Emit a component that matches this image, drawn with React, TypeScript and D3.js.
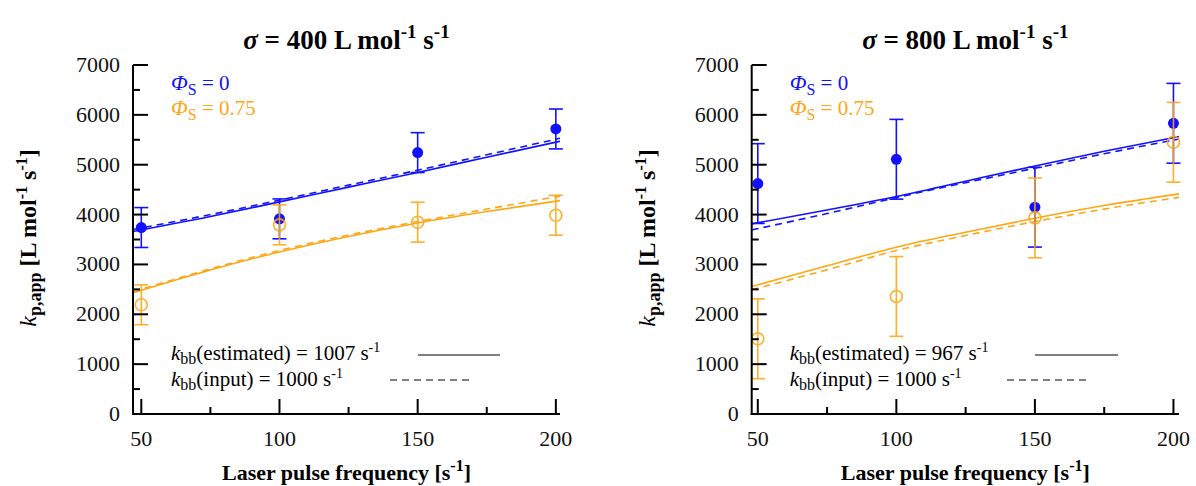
import React from "react";
import * as d3 from "d3";

const freq = [50, 100, 150, 200];
const blue400 = [3740, 3914, 5243, 5717];
const blue400Err = [400, 400, 400, 400];
const orange400 = [2191, 3794, 3847, 3987];
const orange400Err = [400, 400, 400, 400];
const blue800 = [4622, 5109, 4148, 5831];
const blue800Err = [800, 800, 800, 800];
const orange800 = [1509, 2358, 3934, 5450];
const orange800Err = [800, 800, 800, 800];

const fitX400 = [47, 75, 100, 125, 150, 175, 201.5];
const blueEst400 = [3660, 3960, 4255, 4550, 4845, 5150, 5470];
const blueInp400 = [3700, 4000, 4290, 4590, 4890, 5200, 5530];
const orangeEst400 = [2430, 2890, 3250, 3560, 3830, 4060, 4280];
const orangeInp400 = [2450, 2910, 3280, 3590, 3860, 4110, 4370];

const fitX800 = [47.8, 75, 100, 125, 150, 175, 202];
const blueEst800 = [3814, 4090, 4361, 4670, 4976, 5270, 5563];
const blueInp800 = [3693, 4020, 4341, 4640, 4929, 5220, 5515];
const orangeEst800 = [2558, 2972, 3346, 3647, 3927, 4181, 4415];
const orangeInp800 = [2491, 2892, 3279, 3580, 3860, 4110, 4345];

const yMajor = [0, 1000, 2000, 3000, 4000, 5000, 6000, 7000];
const yMinor = [500, 1500, 2500, 3500, 4500, 5500, 6500];
const xMajor = [50, 100, 150, 200];
const xMinor = [75, 125, 175];

const BLUE = "#1111ff";
const ORANGE = "#ffa614";
const FONT = "Liberation Serif, DejaVu Serif, serif";

type PanelProps = {
  left: number;
  right: number;
  domain: [number, number];
  sigma: string;
  kEst: string;
  fitX: number[];
  blue: number[];
  blueErr: number[];
  orange: number[];
  orangeErr: number[];
  blueEst: number[];
  blueInp: number[];
  orangeEst: number[];
  orangeInp: number[];
  estLine: [number, number];
  inpLine: [number, number];
};

function Panel(p: PanelProps) {
  const x = d3.scaleLinear().domain(p.domain).range([p.left, p.right]);
  const y = d3.scaleLinear().domain([0, 7000]).range([414, 65]);
  const top = y(7000);
  const bottom = y(0);
  const line = d3
    .line<number>()
    .x((_, i) => x(p.fitX[i]))
    .y((d) => y(d))
    .curve(d3.curveMonotoneX);
  const cx = (p.left + p.right) / 2;
  const cap = 7;
  const textX = p.left + 38;

  const errBars = (vals: number[], errs: number[], color: string) =>
    vals.map((v, i) => {
      const px = x(freq[i]);
      return (
        <g key={i} stroke={color} strokeWidth={1.6}>
          <line x1={px} x2={px} y1={y(v - errs[i])} y2={y(v + errs[i])} />
          <line x1={px - cap} x2={px + cap} y1={y(v - errs[i])} y2={y(v - errs[i])} />
          <line x1={px - cap} x2={px + cap} y1={y(v + errs[i])} y2={y(v + errs[i])} />
        </g>
      );
    });

  return (
    <g style={{ fontFamily: FONT }}>
      {/* title */}
      <text x={cx} y={49} textAnchor="middle" fontSize={27} fontWeight="bold" fill="#000">
        <tspan fontStyle="italic">σ</tspan>
        <tspan> = {p.sigma} L mol</tspan>
        <tspan fontSize={19} dy={-11}>-1</tspan>
        <tspan dy={11}> s</tspan>
        <tspan fontSize={19} dy={-11}>-1</tspan>
      </text>

      {/* fitted lines */}
      <path d={line(p.blueEst) || ""} fill="none" stroke={BLUE} strokeWidth={1.6} />
      <path d={line(p.blueInp) || ""} fill="none" stroke={BLUE} strokeWidth={1.6} strokeDasharray="7,5" />
      <path d={line(p.orangeEst) || ""} fill="none" stroke={ORANGE} strokeWidth={1.6} />
      <path d={line(p.orangeInp) || ""} fill="none" stroke={ORANGE} strokeWidth={1.6} strokeDasharray="7,5" />

      {/* error bars and markers */}
      {errBars(p.blue, p.blueErr, BLUE)}
      {p.blue.map((v, i) => (
        <circle key={"b" + i} cx={x(freq[i])} cy={y(v)} r={5.5} fill={BLUE} />
      ))}
      <g opacity={0.9}>
        {errBars(p.orange, p.orangeErr, ORANGE)}
        {p.orange.map((v, i) => (
          <circle key={"o" + i} cx={x(freq[i])} cy={y(v)} r={6} fill="none" stroke={ORANGE} strokeWidth={1.6} />
        ))}
      </g>

      {/* axes */}
      <g stroke="#000" strokeWidth={2}>
        <line x1={p.left} x2={p.left} y1={top} y2={bottom + 1} />
        <line x1={p.left - 1} x2={p.right} y1={bottom} y2={bottom} />
        {yMajor.map((t) => (
          <line key={"ym" + t} x1={p.left} x2={p.left + 15} y1={y(t)} y2={y(t)} />
        ))}
        {yMinor.map((t) => (
          <line key={"yn" + t} x1={p.left} x2={p.left + 7} y1={y(t)} y2={y(t)} />
        ))}
        {xMajor.map((t) => (
          <line key={"xm" + t} x1={x(t)} x2={x(t)} y1={bottom} y2={bottom - 15} />
        ))}
        {xMinor.map((t) => (
          <line key={"xn" + t} x1={x(t)} x2={x(t)} y1={bottom} y2={bottom - 7} />
        ))}
      </g>
      {yMajor.map((t) => (
        <text key={"yl" + t} x={p.left - 13} y={y(t) + 7} textAnchor="end" fontSize={22} fill="#111">
          {t}
        </text>
      ))}
      {xMajor.map((t) => (
        <text key={"xl" + t} x={x(t)} y={446} textAnchor="middle" fontSize={22} fill="#111">
          {t}
        </text>
      ))}

      {/* axis titles */}
      <text x={cx} y={480} textAnchor="middle" fontSize={22} fontWeight="bold" fill="#000">
        <tspan>Laser pulse frequency [s</tspan>
        <tspan fontSize={16} dy={-9}>-1</tspan>
        <tspan dy={9}>]</tspan>
      </text>
      <text
        transform={`translate(${p.left - 97},238) rotate(-90)`}
        textAnchor="middle"
        fontSize={24}
        fill="#000"
      >
        <tspan fontStyle="italic">k</tspan>
        <tspan fontSize={18} dy={5} fontWeight="bold">p,app</tspan>
        <tspan dy={-5} fontWeight="bold"> [L mol</tspan>
        <tspan fontSize={16} dy={-9} fontWeight="bold">-1</tspan>
        <tspan dy={9} fontWeight="bold"> s</tspan>
        <tspan fontSize={16} dy={-9} fontWeight="bold">-1</tspan>
        <tspan dy={9} fontWeight="bold">]</tspan>
      </text>

      {/* legend */}
      <text x={textX} y={90} fontSize={21} fill={BLUE}>
        <tspan fontStyle="italic" fontSize={22}>Φ</tspan>
        <tspan fontSize={16} dy={5}>S</tspan>
        <tspan dy={-5}> = 0</tspan>
      </text>
      <text x={textX} y={115} fontSize={21} fill={ORANGE}>
        <tspan fontStyle="italic" fontSize={22}>Φ</tspan>
        <tspan fontSize={16} dy={5}>S</tspan>
        <tspan dy={-5}> = 0.75</tspan>
      </text>

      {/* kbb annotation */}
      <text x={textX} y={360} fontSize={21} fill="#000">
        <tspan fontStyle="italic">k</tspan>
        <tspan fontSize={16} dy={4}>bb</tspan>
        <tspan dy={-4}>(estimated) = {p.kEst} s</tspan>
        <tspan fontSize={14} dy={-8}>-1</tspan>
      </text>
      <text x={textX} y={386} fontSize={21} fill="#000">
        <tspan fontStyle="italic">k</tspan>
        <tspan fontSize={16} dy={4}>bb</tspan>
        <tspan dy={-4}>(input) = 1000 s</tspan>
        <tspan fontSize={14} dy={-8}>-1</tspan>
      </text>
      <line x1={p.estLine[0]} x2={p.estLine[1]} y1={355} y2={355} stroke="#000" strokeWidth={1.2} />
      <line x1={p.inpLine[0]} x2={p.inpLine[1]} y1={380} y2={380} stroke="#000" strokeWidth={1.2} strokeDasharray="7,5" />
    </g>
  );
}

export default function App() {
  return (
    <svg
      width={1196}
      height={486}
      style={{ position: "absolute", left: 0, top: 0, background: "#fff" }}
    >
      <rect width={1196} height={486} fill="#fff" />
      <Panel
        left={133}
        right={560}
        domain={[47, 201.5]}
        sigma="400"
        kEst="1007"
        fitX={fitX400}
        blue={blue400}
        blueErr={blue400Err}
        orange={orange400}
        orangeErr={orange400Err}
        blueEst={blueEst400}
        blueInp={blueInp400}
        orangeEst={orangeEst400}
        orangeInp={orangeInp400}
        estLine={[418, 500]}
        inpLine={[390, 473]}
      />
      <Panel
        left={751.7}
        right={1179}
        domain={[47.8, 202]}
        sigma="800"
        kEst="967"
        fitX={fitX800}
        blue={blue800}
        blueErr={blue800Err}
        orange={orange800}
        orangeErr={orange800Err}
        blueEst={blueEst800}
        blueInp={blueInp800}
        orangeEst={orangeEst800}
        orangeInp={orangeInp800}
        estLine={[1035, 1118]}
        inpLine={[1007, 1090]}
      />
    </svg>
  );
}
